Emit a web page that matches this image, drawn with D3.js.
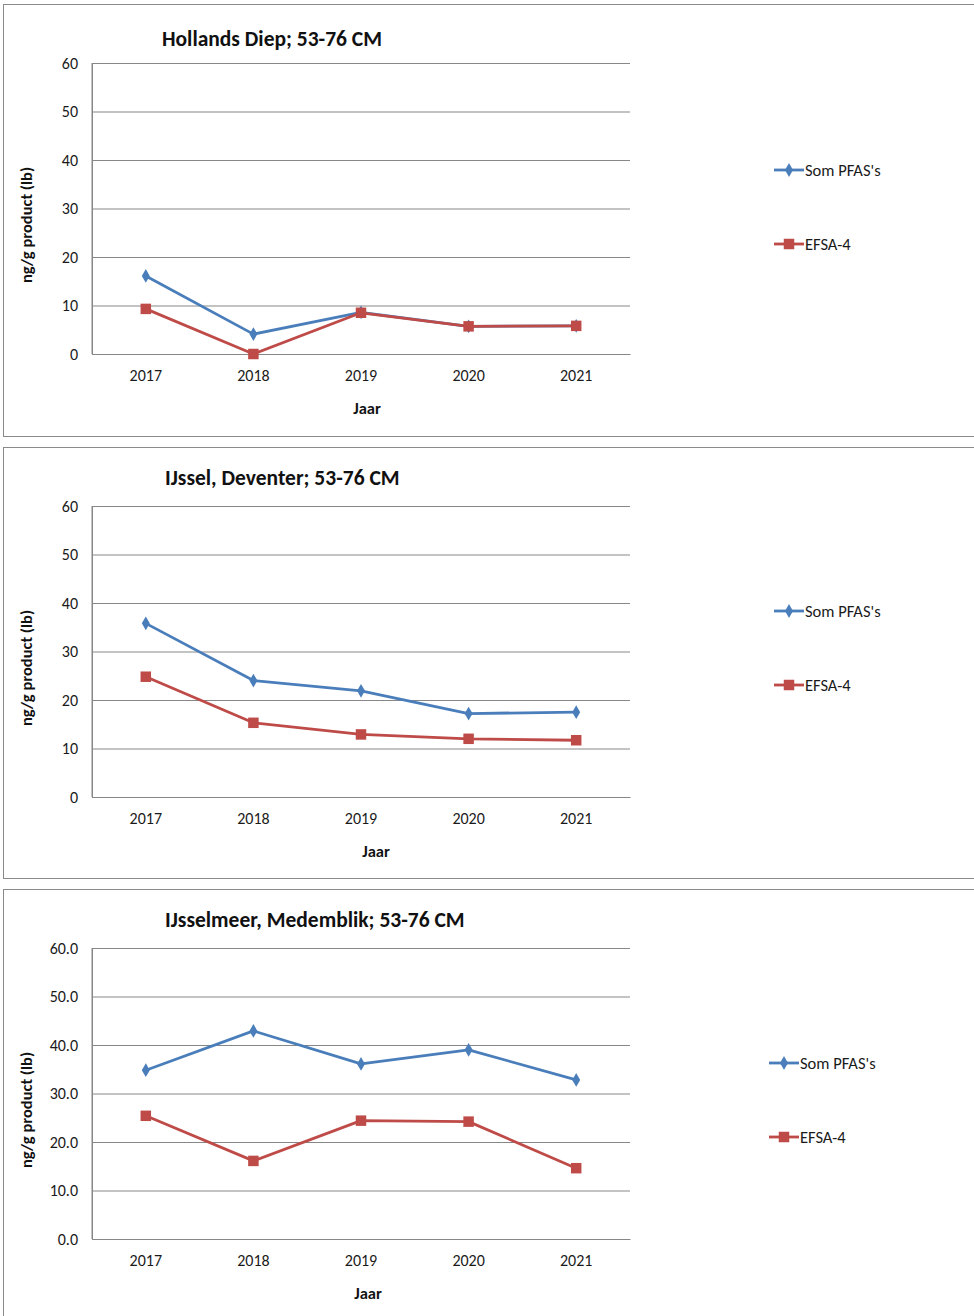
<!DOCTYPE html>
<html><head><meta charset="utf-8">
<script src="https://cdn.jsdelivr.net/npm/d3@7/dist/d3.min.js"></script>
<style>
body{margin:0;background:#fff;}
svg{display:block;font-family:Carlito,Calibri,Lato,"Noto Sans",sans-serif;}
</style></head>
<body>
<svg id="chart" width="974" height="1316"></svg>
<script>
const years = ["2017","2018","2019","2020","2021"];
const titles = ["Hollands Diep; 53-76 CM","IJssel, Deventer; 53-76 CM","IJsselmeer, Medemblik; 53-76 CM"];
const seriesNames = ["Som PFAS's","EFSA-4"];
const somHollandsDiep = [16.1, 4.1, 8.6, 5.7, 5.8];
const efsaHollandsDiep = [9.3, 0.0, 8.5, 5.7, 5.8];
const somIJssel = [35.8, 24.0, 21.9, 17.2, 17.5];
const efsaIJssel = [24.8, 15.3, 12.9, 12.0, 11.7];
const somIJsselmeer = [34.8, 42.9, 36.1, 39.0, 32.8];
const efsaIJsselmeer = [25.4, 16.1, 24.4, 24.2, 14.6];
const yTicks = [0,10,20,30,40,50,60];
const yTickFormats = ["d","d",".1f"];
const yTitle = "ng/g product (lb)";
const xTitle = "Jaar";

const svg = d3.select("#chart");
const blue = "#4A7EBB", red = "#BE4B48", grid = "#878787";
const tickFont = "Carlito,Calibri,Lato,sans-serif";

const panels = [
  {top:4, h:432, titleX:162, titleY:42, xTitleX:367, legX:774, legY:[166,240], som:somHollandsDiep, efsa:efsaHollandsDiep, fmt:yTickFormats[0], title:titles[0]},
  {top:447, h:431, titleX:165, titleY:38, xTitleX:376, legX:774, legY:[164,238], som:somIJssel, efsa:efsaIJssel, fmt:yTickFormats[1], title:titles[1]},
  {top:889, h:500, titleX:165, titleY:38, xTitleX:368, legX:769, legY:[174,248], som:somIJsselmeer, efsa:efsaIJsselmeer, fmt:yTickFormats[2], title:titles[2]}
];

panels.forEach(p => {
  const g = svg.append("g").attr("transform", `translate(0,${p.top})`);
  g.append("rect").attr("x",3.5).attr("y",0.5).attr("width",1000).attr("height",p.h)
    .attr("fill","#fff").attr("stroke","#8a8a8a").attr("stroke-width",1);
  const left = 92, right = 630, top = 59, bottom = 350;
  const x = d3.scaleBand().domain(years).range([left,right]);
  const y = d3.scaleLinear().domain([0,60]).range([bottom,top]);

  const yAxis = d3.axisLeft(y).tickValues(yTicks).tickSize(-(right-left)).tickPadding(14).tickFormat(d3.format(p.fmt));
  const ya = g.append("g").attr("transform",`translate(${left},0)`).call(yAxis);
  ya.select(".domain").attr("stroke",grid);
  ya.selectAll(".tick line").attr("stroke",grid).attr("stroke-width",1);
  ya.selectAll(".tick text").attr("font-size",16).attr("fill","#1a1a1a").attr("font-family",tickFont);

  const xAxis = d3.axisBottom(x).tickSize(0).tickPadding(16);
  const xa = g.append("g").attr("transform",`translate(0,${bottom})`).call(xAxis);
  xa.select(".domain").attr("stroke",grid);
  xa.selectAll(".tick text").attr("font-size",16).attr("fill","#1a1a1a").attr("font-family",tickFont);
  g.append("line").attr("x1",left).attr("x2",left).attr("y1",top).attr("y2",bottom).attr("stroke",grid);

  g.append("text").attr("x",p.titleX).attr("y",p.titleY).attr("font-size",21.5).attr("font-weight","bold")
    .attr("fill","#111").text(p.title);
  g.append("text").attr("transform",`translate(32,221) rotate(-90)`)
    .attr("text-anchor","middle").attr("font-size",16.5).attr("font-weight","bold").attr("fill","#111").text(yTitle);
  g.append("text").attr("x",p.xTitleX).attr("y",410).attr("text-anchor","middle")
    .attr("font-size",16.5).attr("font-weight","bold").attr("fill","#111").text(xTitle);

  const line = d3.line().x((d,i)=>x(years[i])+x.bandwidth()/2).y(d=>y(d));
  const series = [{vals:p.som,color:blue,shape:d3.symbolDiamond,size:55},{vals:p.efsa,color:red,shape:d3.symbolSquare,size:110}];
  series.forEach(s => {
    g.append("path").datum(s.vals).attr("d",line).attr("fill","none").attr("stroke",s.color)
      .attr("stroke-width",2.8).attr("stroke-linejoin","round");
    g.selectAll(null).data(s.vals).enter().append("path")
      .attr("d",d3.symbol().type(s.shape).size(s.size))
      .attr("transform",(d,i)=>`translate(${x(years[i])+x.bandwidth()/2},${y(d)})`)
      .attr("fill",s.color);
  });

  series.forEach((s,i) => {
    const lg = g.append("g").attr("transform",`translate(${p.legX},${p.legY[i]})`);
    lg.append("line").attr("x1",0).attr("x2",30).attr("stroke",s.color).attr("stroke-width",2.8);
    lg.append("path").attr("d",d3.symbol().type(s.shape).size(s.size)).attr("transform","translate(15,0)").attr("fill",s.color);
    lg.append("text").attr("x",31).attr("y",5.5).attr("font-size",16.5).attr("fill","#1a1a1a").text(seriesNames[i]);
  });
});
</script>
</body></html>
